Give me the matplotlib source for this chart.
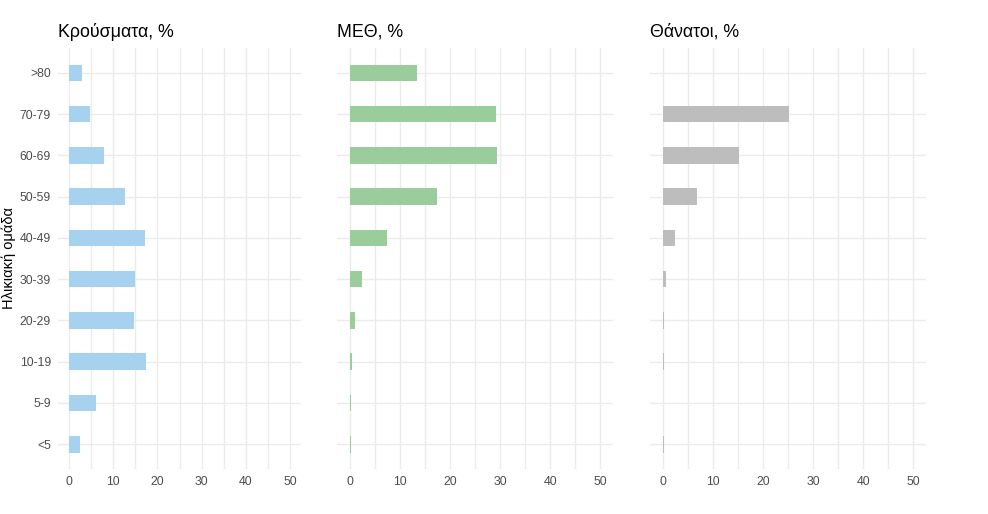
import matplotlib.pyplot as plt
from matplotlib.ticker import MultipleLocator

plt.rcParams['font.family'] = ['Liberation Sans', 'DejaVu Sans']

# age groups, bottom to top
age_groups = ['<5', '5-9', '10-19', '20-29', '30-39', '40-49', '50-59', '60-69', '70-79', '>80']
cases = [2.5, 6.1, 17.4, 14.7, 15.0, 17.2, 12.7, 7.9, 4.8, 2.9]
icu = [0.2, 0.2, 0.45, 1.0, 2.4, 7.4, 17.5, 29.3, 29.1, 13.5]
deaths = [0.2, 0.0, 0.2, 0.2, 0.6, 2.4, 6.8, 15.3, 25.1, 0.0]

titles = ['Κρούσματα, %', 'ΜΕΘ, %', 'Θάνατοι, %']
colors = ['#a6d2ef', '#9acd9b', '#bdbdbd']
series = [cases, icu, deaths]

fig = plt.figure(figsize=(9.88, 5.14), dpi=100)
boxes = [
    [58 / 988, 0.0875, 243 / 988, 0.819],
    [337 / 988, 0.0875, 276 / 988, 0.819],
    [650 / 988, 0.0875, 276 / 988, 0.819],
]

for i, (box, vals, col, title) in enumerate(zip(boxes, series, colors, titles)):
    ax = fig.add_axes(box)
    ypos = range(len(age_groups))
    ax.barh(ypos, vals, height=0.4, color=col, zorder=2, linewidth=0)
    ax.set_xlim(-2.5, 52.5)
    ax.set_ylim(-0.6, len(age_groups) - 0.4)
    ax.xaxis.set_major_locator(MultipleLocator(10))
    ax.xaxis.set_minor_locator(MultipleLocator(5))
    ax.set_yticks(list(ypos))
    if i == 0:
        ax.set_yticklabels(age_groups)
    else:
        ax.set_yticklabels([])
    ax.grid(True, which='both', color='#ebebeb', linewidth=1.0, zorder=0)
    ax.set_axisbelow(True)
    for s in ax.spines.values():
        s.set_visible(False)
    ax.tick_params(which='both', length=0, labelsize=8.8, colors='#4d4d4d', pad=5)
    ax.set_title(title, loc='left', fontsize=12.8, pad=8, color='black')

fig.text(9 / 988, 1 - 258 / 514, 'Ηλικιακή ομάδα', rotation=90,
         ha='center', va='center', fontsize=10.5, color='black')

fig.savefig('out.png', dpi=100)
